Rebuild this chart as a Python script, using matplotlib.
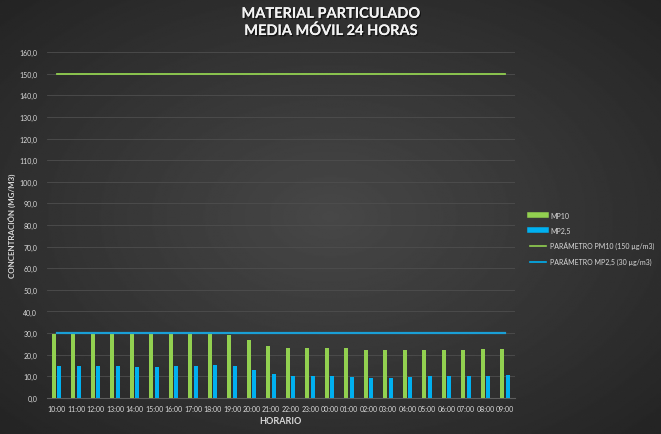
import numpy as np
import matplotlib.pyplot as plt
from matplotlib.lines import Line2D
import matplotlib.patheffects as pe

plt.rcParams['font.family'] = ['Lato', 'DejaVu Sans']

horas = ['10:00', '11:00', '12:00', '13:00', '14:00', '15:00', '16:00', '17:00',
         '18:00', '19:00', '20:00', '21:00', '22:00', '23:00', '00:00', '01:00',
         '02:00', '03:00', '04:00', '05:00', '06:00', '07:00', '08:00', '09:00']
mp10 = [29.5, 29.8, 29.8, 29.8, 29.8, 29.8, 29.8, 29.8, 29.8, 29.0, 26.9, 24.1,
        22.9, 23.3, 23.3, 22.9, 22.2, 22.1, 22.1, 22.1, 22.2, 22.2, 22.5, 22.5]
mp25 = [14.7, 14.7, 14.7, 14.7, 14.4, 14.4, 14.7, 14.7, 15.1, 14.7, 12.8, 10.9,
        9.9, 9.9, 9.9, 9.6, 9.3, 9.3, 9.6, 9.9, 10.1, 10.1, 10.2, 10.6]
param_pm10 = 150
param_mp25 = 30

green = '#92d050'
blue = '#00b0f0'
txt = '#d9d9d9'

fig = plt.figure(figsize=(6.61, 4.35), dpi=100)

# radial gradient background
bg = fig.add_axes([0, 0, 1, 1], zorder=-10)
yy, xx = np.mgrid[-1:1:300j, -1:1:450j]
r = np.clip(np.sqrt(xx**2 + yy**2) / np.sqrt(2), 0, 1)
bg.imshow(0.14 + 0.14 * (1 - r), cmap='gray', vmin=0, vmax=1, aspect='auto', extent=[0, 1, 0, 1])
bg.axis('off')

ax = fig.add_axes([0.071, 0.083, 0.708, 0.795])
ax.set_facecolor('none')
x = np.arange(len(horas))
w = 0.21
ax.bar(x - 0.14, mp10, width=w, color=green, zorder=3)
ax.bar(x + 0.14, mp25, width=w, color=blue, zorder=3)
ax.plot(x, [param_pm10] * len(x), color=green, lw=1.3, zorder=4)
ax.plot(x, [param_mp25] * len(x), color='#1a9fd6', lw=1.6, zorder=4)

ax.set_xlim(-0.5, len(horas) - 0.5)
ax.set_ylim(0, 160)
ax.set_yticks(np.arange(0, 161, 10))
ax.set_yticklabels([f'{v:.1f}'.replace('.', ',') for v in np.arange(0, 161, 10)])
ax.set_xticks(x)
ax.set_xticklabels(horas)
ax.tick_params(axis='both', colors=txt, labelsize=5, length=0, pad=7)
ax.tick_params(axis='x', pad=5)
ax.grid(axis='y', color='#4e4e4e', lw=0.6, zorder=0)
for s in ['top', 'right', 'left']:
    ax.spines[s].set_visible(False)
ax.spines['bottom'].set_color('#5e5e5e')

ax.set_ylabel('CONCENTRACIÓN (MG/M3)', color=txt, fontsize=5.8, fontweight='bold', labelpad=2)
ax.set_xlabel('HORARIO', color=txt, fontsize=6.5, fontweight='bold', labelpad=3)

shadow = [pe.withSimplePatchShadow(offset=(1, -1), shadow_rgbFace='black', alpha=0.6), pe.Normal()]
fig.text(0.50, 0.966, 'MATERIAL PARTICULADO', ha='center', va='center', color='#f2f2f2',
         fontsize=10.5, fontweight='bold', path_effects=shadow)
fig.text(0.50, 0.927, 'MEDIA MÓVIL 24 HORAS', ha='center', va='center', color='#f2f2f2',
         fontsize=10.5, fontweight='bold', path_effects=shadow)

handles = [Line2D([], [], color=green, lw=4),
           Line2D([], [], color=blue, lw=4),
           Line2D([], [], color=green, lw=1.2),
           Line2D([], [], color=blue, lw=1.2)]
labels = ['MP10', 'MP2,5', 'PARÁMETRO PM10 (150 µg/m3)', 'PARÁMETRO MP2,5 (30 µg/m3)']
leg = fig.legend(handles, labels, loc='upper left', bbox_to_anchor=(0.792, 0.525), frameon=False,
                 fontsize=5, handlelength=2.3, labelspacing=1.1, handletextpad=0.6)
for t in leg.get_texts():
    t.set_color(txt)

fig.savefig('out.png', dpi=100)
